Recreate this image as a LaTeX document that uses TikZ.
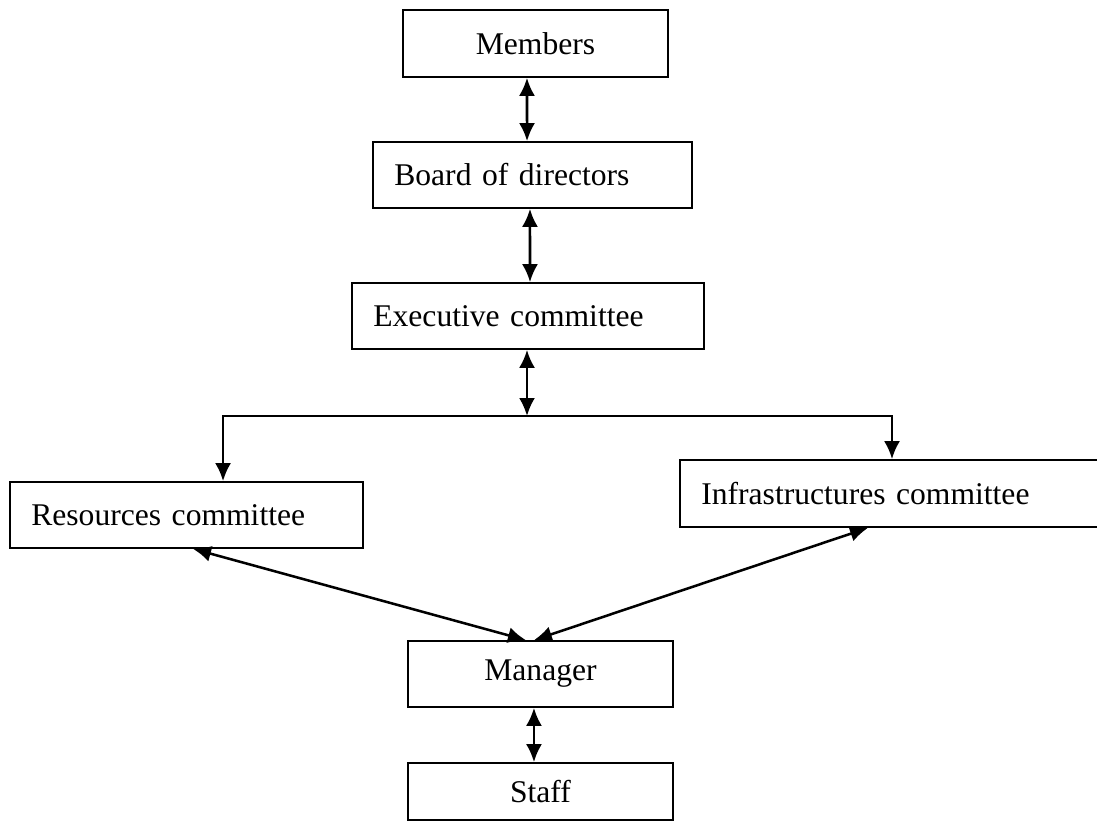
\documentclass[tikz,border=0pt]{standalone}
\usepackage{fontspec}
\setmainfont{Liberation Serif}
\usetikzlibrary{arrows.meta}
\begin{document}
\begin{tikzpicture}[x=0.75pt,y=-0.75pt,
  box/.style={draw, line width=1.3pt, minimum height=49.5pt, inner sep=0pt,
              font=\fontsize{23.7}{28}\selectfont},
  cbox/.style={box, minimum width=198.75pt},
  lbox/.style={box, align=left, inner xsep=16pt, text width=#1},
  tip/.tip={Latex[length=13.5pt,width=12pt]},
  link/.style={line width=1.9pt, tip-tip},
  feed/.style={line width=1.9pt, -tip}]
\clip (0,0) rectangle (1097,821);

% boxes of the organisation chart
\node[cbox, minimum height=50.25pt] (members) at (535.5,43.5) {Members};
\node[lbox=207.25pt] (board) at (532.5,175) {Board of directors};
\node[lbox=232pt] (exec) at (528,316) {Executive committee};
\node[lbox=232.75pt] (res) at (186.5,515) {Resources committee};
\node[lbox=290.5pt, minimum height=50.25pt] (infra) at (895,493.5) {Infrastructures committee};
\node[cbox] (manager) at (540.5,674) {Manager};
\node[cbox, minimum height=42.75pt] (staff) at (540.5,791.5) {Staff};

% branching point of the rail below the executive committee
\coordinate (split) at (527,416);

% connectors
\draw[link] ([xshift=-6.4pt]members.south) -- ([xshift=-4.1pt]board.north);
\draw[link] ([xshift=-1.9pt]board.south) -- ([xshift=1.5pt]exec.north);
\draw[link] ([xshift=-0.75pt]exec.south) -- (split);
\draw[feed] (split) -| ([xshift=27.4pt]res.north);
\draw[feed] (split) -| ([xshift=-2.25pt]infra.north);
\draw[link] ([xshift=4.9pt]res.south) -- ([xshift=-10.9pt]manager.north);
\draw[link] ([xshift=-20.25pt]infra.south) -- ([xshift=-4.9pt]manager.north);
\draw[link] ([xshift=-4.9pt]manager.south) -- ([xshift=-4.9pt]staff.north);
\end{tikzpicture}
\end{document}
